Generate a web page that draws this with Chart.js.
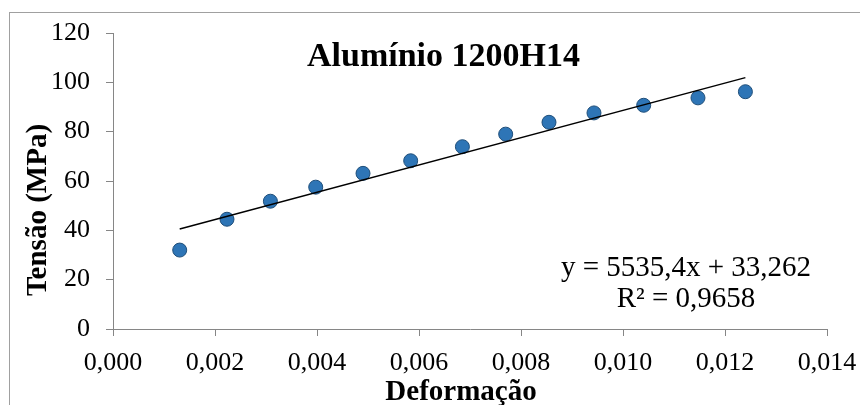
<!DOCTYPE html>
<html lang="pt">
<head>
    <meta charset="UTF-8">
    <title>Alumínio 1200H14</title>
    <script src="https://cdn.jsdelivr.net/npm/chart.js"></script>
    <style>
        html, body { margin: 0; padding: 0; background: #fff; overflow: hidden; }
        .chart-container { position: relative; width: 860px; height: 405px; }
    </style>
</head>
<body>

<div class="chart-container">
    <canvas id="stressChart" width="860" height="405"></canvas>
</div>

<script>
    // Valores
    const strain = [0.001308, 0.002235, 0.003086, 0.003975, 0.004902, 0.005837, 0.006851,
                    0.007700, 0.008549, 0.009431, 0.010406, 0.011470, 0.012400];
    const stress = [32.0, 44.5, 51.8, 57.5, 63.1, 68.2, 73.9, 79.0, 83.8, 87.6, 90.7, 93.7, 96.2];

    // Linha de tendência (Excel): y = 5535,4x + 33,262
    const trendSlope = 5535.4;
    const trendIntercept = 33.262;

    const chartTitle = 'Alumínio 1200H14';
    const xTitle = 'Deformação';
    const yTitle = 'Tensão (MPa)';
    const equationLines = ['y = 5535,4x + 33,262', 'R² = 0,9658'];

    const serif = '"Liberation Serif", "Times New Roman", serif';

    const points = strain.map((x, i) => ({ x: x, y: stress[i] }));
    const trendX = [strain[0], strain[strain.length - 1]];
    const trend = trendX.map(x => ({ x: x, y: trendSlope * x + trendIntercept }));

    // texto extra (título, eixos, equação) e moldura do gráfico
    const textPlugin = {
        id: 'texts',
        beforeDraw(chart) {
            const ctx = chart.ctx;
            ctx.save();
            ctx.strokeStyle = '#a0a0a0';
            ctx.lineWidth = 1;
            ctx.strokeRect(9.5, 12.5, 1000, 600);
            ctx.restore();
        },
        afterDraw(chart) {
            const ctx = chart.ctx;
            ctx.save();
            ctx.fillStyle = '#000';
            ctx.textAlign = 'center';
            ctx.textBaseline = 'alphabetic';

            ctx.font = 'bold 34px ' + serif;
            ctx.fillText(chartTitle, 443.5, 66);

            ctx.font = 'bold 29px ' + serif;
            ctx.fillText(xTitle, 461, 400);

            ctx.save();
            ctx.translate(46, 210);
            ctx.rotate(-Math.PI / 2);
            ctx.fillText(yTitle, 0, 0);
            ctx.restore();

            ctx.font = '29px ' + serif;
            ctx.fillText(equationLines[0], 686, 276);
            ctx.fillText(equationLines[1], 686, 306.5);
            ctx.restore();
        }
    };

    const axisGray = '#868686';

    new Chart(document.getElementById('stressChart').getContext('2d'), {
        type: 'scatter',
        data: {
            datasets: [{
                label: 'Tendência',
                type: 'line',
                data: trend,
                borderColor: '#000',
                borderWidth: 1.5,
                pointRadius: 0,
                fill: false,
                order: 0
            }, {
                label: 'Tensão',
                data: points,
                backgroundColor: '#2E75B6',
                borderColor: '#1F4E79',
                borderWidth: 1,
                pointRadius: 7,
                order: 1
            }]
        },
        options: {
            responsive: false,
            animation: false,
            devicePixelRatio: 1,
            layout: { padding: { left: 0, right: 33, top: 33, bottom: 0 } },
            plugins: {
                legend: { display: false },
                tooltip: { enabled: false }
            },
            scales: {
                x: {
                    type: 'linear',
                    min: 0,
                    max: 0.014,
                    afterFit: s => {
                        s.height = 76;
                        s.paddingLeft = 0;
                        s.paddingRight = 0;
                    },
                    border: { color: axisGray, width: 1 },
                    grid: { drawOnChartArea: false, drawTicks: true, tickLength: 7, color: axisGray },
                    ticks: {
                        stepSize: 0.002,
                        padding: 12,
                        color: '#000',
                        font: { family: serif, size: 26 },
                        maxRotation: 0,
                        autoSkip: false,
                        callback: v => v.toFixed(3).replace('.', ',')
                    }
                },
                y: {
                    min: 0,
                    max: 120,
                    afterFit: s => {
                        s.width = 113;
                        s.paddingTop = 0;
                        s.paddingBottom = 0;
                    },
                    border: { color: axisGray, width: 1 },
                    grid: { drawOnChartArea: false, drawTicks: true, tickLength: 7, color: axisGray },
                    ticks: {
                        stepSize: 20,
                        padding: 16,
                        color: '#000',
                        font: { family: serif, size: 26 }
                    }
                }
            }
        },
        plugins: [textPlugin]
    });
</script>
</body>
</html>
